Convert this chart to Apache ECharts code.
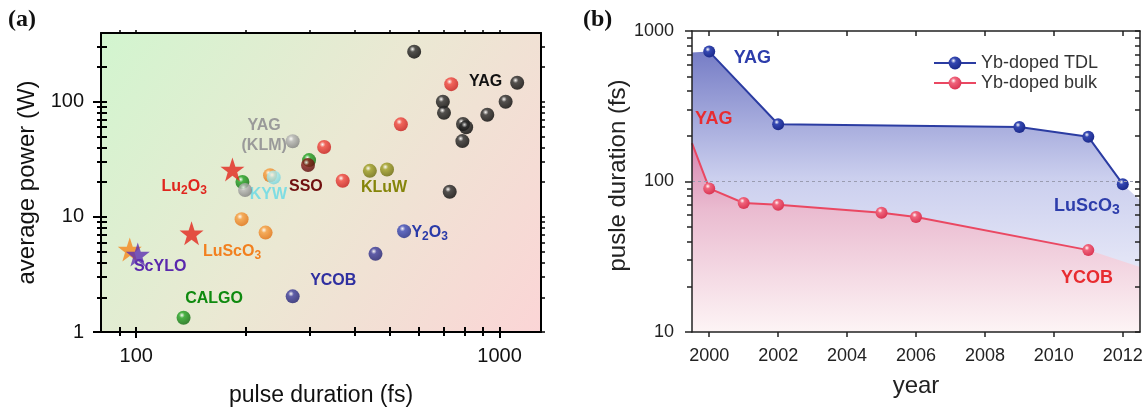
<!DOCTYPE html>
<html><head><meta charset="utf-8">
<script src="https://cdn.jsdelivr.net/npm/echarts@6/dist/echarts.min.js"></script>
<style>html,body{margin:0;padding:0;background:#fff}#c{width:1145px;height:408px}</style>
</head><body><div id="c"></div>
<script>
// ================= DATA: panel (a)  [pulse duration fs, average power W] =================
const yagThinDisk = [[582,272],[1118,146],[698,100],[703,80],[1039,100],[925,77],[793,64],[809,60],[790,45.5],[729,16.5]];
const yagBulkRed  = [[736,142],[535,63.6],[329,40.4],[370,20.6]];
const lu2o3Stars  = [[184,25.8],[142,7.2]];
const orangeStar  = [[96,5.2]];
const scyloStar   = [[101,4.7]];
const luscO3Pts   = [[195,9.55],[227,7.3],[233.5,23]];
const kywPts      = [[239,22]];
const yagKlmPts   = [[269.5,45.3],[199.3,17.1]];
const calgoPts    = [[196,20.1],[299,31.1],[135,1.33]];
const ssoPts      = [[297,28.2]];
const kluwPts     = [[439.5,25.1],[490,25.8]];
const ycobPts     = [[269.5,2.04],[455.5,4.77]];
const y2o3Pts     = [[546,7.51]];
const labelTextA  = ['YAG','YAG','(KLM)','Lu2O3','KYW','SSO','KLuW','Y2O3','LuScO3','ScYLO','YCOB','CALGO'];
const labelPosA   = [[915,149],[225,61.5],[225,41.2],[135.5,18.5],[231,15.7],[293,18.2],[481,17.9],[642,7.4],[183.5,5.06],[116.4,3.67],[348.5,2.82],[163.8,1.95]];
const xRangeA = [80, 1300];
const yRangeA = [1, 395];
const xMajorA = [100, 1000];
const xMinorA = [90, 200, 300, 400, 500, 600, 700, 800, 900];
const yMajorA = [1, 10, 100];
const yMinorA = [2,3,4,5,6,7,8,9,20,30,40,50,60,70,80,90,200,300];

// ================= DATA: panel (b)  [year, pulse duration fs] =================
const tdlSeries  = [[2000,730],[2002,240],[2009,230],[2011,198],[2012,96]];
const bulkSeries = [[2000,90],[2001,72],[2002,70],[2005,62],[2006,58],[2011,35]];
const bulkLeadIn = [1999.5, 180];
const tdlShadeEnds  = [[1999.5,720],[2012.5,75]];
const bulkShadeEnd  = [2012.5, 27];
const refLevel = 100;
const labelTextB = ['YAG','YAG','LuScO3','YCOB'];
const labelPosB  = [[2001.25,665],[2000.13,261],[2010.96,69.8],[2010.96,23.0]];
const yearTicks  = [2000,2002,2004,2006,2008,2010,2012];
const xRangeB = [1999.5, 2012.5];
const yRangeB = [10, 1000];
const yMajorB = [10, 100, 1000];
const yMinorB = [20,30,40,50,60,70,80,90,200,300,400,500,600,700,800,900];
const legendNames = ['Yb-doped TDL','Yb-doped bulk'];

// ================= STYLE =================
const FONT = '"Liberation Sans", Arial, Helvetica, sans-serif';
const labelColorsA = ['#111111','#9a9a9a','#9a9a9a','#e0261e','#7fdde3','#701010','#85850a','#2a3aa8','#f2801f','#5a28ad','#2f2fa0','#0f8a0f'];
const labelColorsB = ['#2d3dab','#e82c30','#2d3dab','#e82c30'];

function sphere(base, dark) {
  return {type:'radial', x:0.38, y:0.32, r:0.72, colorStops:[
    {offset:0, color:'#ffffff'}, {offset:0.28, color:base}, {offset:1, color:dark}]};
}
const STAR = 'path://M50,0 L61.8,35.3 L97.6,35.3 L68.8,57.1 L79.4,91.9 L50,70.5 L20.6,91.9 L31.2,57.1 L2.4,35.3 L38.2,35.3 Z';

function chem(t) {
  if (!/\d/.test(t)) return t;
  return t.replace(/([A-Za-z]+)/g, '{m|$1}').replace(/(\d)/g, '{s|$1}');
}
function labelItems(texts, pos, colors, size) {
  return texts.map((t, i) => {
    const sub = /\d/.test(t);
    return {
      value: pos[i],
      label: {
        show: true, position: 'inside', formatter: chem(t), opacity: 1,
        color: colors[i], fontSize: size, fontWeight: 'bold', fontFamily: FONT,
        textBorderWidth: 0, textBorderColor: 'transparent', textShadowBlur: 0,
        offset: sub ? [0, 2] : [0, 0],
        rich: {
          m: {fontSize: size, fontWeight: 'bold', fontFamily: FONT, color: colors[i], lineHeight: size + 2, verticalAlign: 'top', textBorderWidth: 0},
          s: {fontSize: size - 4, fontWeight: 'bold', fontFamily: FONT, color: colors[i], lineHeight: size - 4, verticalAlign: 'bottom', textBorderWidth: 0, padding: [Math.round(size * 0.75), 0, 0, 0]}
        }
      }
    };
  });
}

// ================= AXES =================
const xAxes = [], yAxes = [];
function addAxis(list, o) {
  list.push(Object.assign({
    z: 10, splitLine: {show: false}, axisLine: {show: false},
    axisTick: {show: false}, axisLabel: {show: false}, axisPointer: {show: false}
  }, o));
  return list.length - 1;
}
function tk(values, len, inside, color, width) {
  return {show: true, customValues: values, length: len, inside: inside, lineStyle: {color: color, width: width}};
}
const lineA = {show: true, lineStyle: {color: '#000', width: 2}};
const lineB = {show: true, lineStyle: {color: '#222', width: 1.5}};
const numFmt = v => String(Math.round(v));

// panel (a)
const xa = addAxis(xAxes, {type:'log', logBase:10, gridIndex:0, position:'bottom', min:xRangeA[0], max:xRangeA[1],
  axisLine: lineA, axisTick: tk(xMajorA, 6, false, '#000', 2),
  axisLabel: {show:true, customValues: xMajorA, formatter: numFmt, fontSize: 20, color:'#111', margin: 14, fontFamily: FONT},
  name: 'pulse duration (fs)', nameLocation:'middle', nameGap: 52, nameTextStyle: {fontSize: 23, color:'#111', fontFamily: FONT}});
addAxis(xAxes, {type:'log', logBase:10, gridIndex:0, position:'bottom', min:xRangeA[0], max:xRangeA[1], axisTick: tk(xMinorA, 4, false, '#000', 2)});
addAxis(xAxes, {type:'log', logBase:10, gridIndex:0, position:'bottom', min:xRangeA[0], max:xRangeA[1], axisTick: tk(xMajorA.concat(xMinorA), 5, true, '#000', 2)});
addAxis(xAxes, {type:'log', logBase:10, gridIndex:0, position:'top', min:xRangeA[0], max:xRangeA[1], axisLine: lineA, axisTick: tk(xMajorA.concat(xMinorA), 3, false, '#000', 1.5)});

const ya = addAxis(yAxes, {type:'log', logBase:10, gridIndex:0, position:'left', min:yRangeA[0], max:yRangeA[1],
  axisLine: lineA, axisTick: tk(yMajorA, 8, false, '#000', 2),
  axisLabel: {show:true, customValues: yMajorA, formatter: numFmt, fontSize: 20, color:'#111', margin: 17, fontFamily: FONT},
  name: 'average power (W)', nameLocation:'middle', nameGap: 62, nameTextStyle: {fontSize: 24, color:'#111', fontFamily: FONT}});
addAxis(yAxes, {type:'log', logBase:10, gridIndex:0, position:'left', min:yRangeA[0], max:yRangeA[1], axisTick: tk(yMinorA, 4, false, '#000', 2)});
addAxis(yAxes, {type:'log', logBase:10, gridIndex:0, position:'left', min:yRangeA[0], max:yRangeA[1], axisTick: tk(yMajorA.concat(yMinorA), 6, true, '#000', 2)});
addAxis(yAxes, {type:'log', logBase:10, gridIndex:0, position:'right', min:yRangeA[0], max:yRangeA[1], axisLine: lineA, axisTick: tk(yMajorA.concat(yMinorA), 4, false, '#000', 1.5)});

// panel (b)
const xb = addAxis(xAxes, {type:'value', gridIndex:1, position:'bottom', min:xRangeB[0], max:xRangeB[1],
  axisLine: lineB, axisTick: tk(yearTicks, 5, false, '#222', 1.5),
  axisLabel: {show:true, customValues: yearTicks, formatter: numFmt, fontSize: 18, color:'#222', margin: 15, fontFamily: FONT},
  name: 'year', nameLocation:'middle', nameGap: 42, nameTextStyle: {fontSize: 24, color:'#222', fontFamily: FONT}});
addAxis(xAxes, {type:'value', gridIndex:1, position:'top', min:xRangeB[0], max:xRangeB[1], axisLine: lineB, axisTick: tk(yearTicks, 5, true, '#222', 1.5)});

const yb = addAxis(yAxes, {type:'log', logBase:10, gridIndex:1, position:'left', min:yRangeB[0], max:yRangeB[1],
  axisLine: lineB, axisTick: tk(yMajorB, 7, false, '#222', 1.5),
  axisLabel: {show:true, customValues: yMajorB, formatter: numFmt, fontSize: 18, color:'#222', margin: 18, fontFamily: FONT},
  name: 'pusle duration (fs)', nameLocation:'middle', nameGap: 37, nameTextStyle: {fontSize: 24, color:'#222', fontFamily: FONT, padding: [0, 0, 0, 12]}});
addAxis(yAxes, {type:'log', logBase:10, gridIndex:1, position:'left', min:yRangeB[0], max:yRangeB[1], axisTick: tk(yMinorB, 5, false, '#222', 1.5)});
addAxis(yAxes, {type:'log', logBase:10, gridIndex:1, position:'right', min:yRangeB[0], max:yRangeB[1], axisLine: lineB, axisTick: tk(yMajorB.concat(yMinorB), 5, true, '#222', 1.5)});

// ================= SERIES =================
const A = {xAxisIndex: xa, yAxisIndex: ya};
const B = {xAxisIndex: xb, yAxisIndex: yb};
function balls(name, data, base, dark, z) {
  return Object.assign({type:'scatter', name, data, symbol:'circle', symbolSize: 14, z: z || 3,
    itemStyle: {color: sphere(base, dark)}, silent: true}, A);
}
function stars(name, data, color, size) {
  return Object.assign({type:'scatter', name, data, symbol: STAR, symbolSize: size, z: 3,
    itemStyle: {color: color}, silent: true}, A);
}

const series = [
  Object.assign({type:'scatter', name:'labelsA', data: labelItems(labelTextA, labelPosA, labelColorsA, 16),
    symbolSize: 1, itemStyle: {color: 'rgba(0,0,0,0)'}, z: 1, silent: true}, A),
  balls('CALGO', calgoPts, '#22a322', '#0a660a'),
  balls('SSO', ssoPts, '#8c1c1c', '#560606'),
  balls('YAG (KLM)', yagKlmPts, '#b6b6b6', '#7c7c7c'),
  balls('LuScO3', luscO3Pts, '#f79c3c', '#e06c0c'),
  balls('KYW', kywPts, '#b4eef1', '#72d2da'),
  balls('YAG bulk', yagBulkRed, '#f2463e', '#c41616'),
  balls('KLuW', kluwPts, '#9e9e22', '#666606'),
  balls('YCOB', ycobPts, '#3c3c9c', '#1c1c6c'),
  balls('Y2O3', y2o3Pts, '#3c4cba', '#1c2886'),
  balls('YAG TD', yagThinDisk, '#2c2c2c', '#000000'),
  stars('Lu2O3', lu2o3Stars, '#e2271d', 24),
  stars('orange star', orangeStar, '#f5871d', 24),
  stars('ScYLO', scyloStar, '#5c30b2', 24),

  // panel (b) shading
  Object.assign({type:'line', name:'tdlShade', data: [tdlShadeEnds[0]].concat(tdlSeries, [tdlShadeEnds[1]]),
    symbol:'none', lineStyle:{width:0, opacity:0}, silent:true, z: 1,
    areaStyle:{origin:'start', opacity:1, color:{type:'linear', x:0, y:0, x2:0, y2:1, colorStops:[
      {offset:0, color:'#767dc6'}, {offset:0.45, color:'#cbcfee'}, {offset:1, color:'#f7f7fd'}]}}}, B),
  Object.assign({type:'line', name:'bulkShade', data: [bulkLeadIn].concat(bulkSeries, [bulkShadeEnd]),
    symbol:'none', lineStyle:{width:0, opacity:0}, silent:true, z: 1,
    areaStyle:{origin:'start', opacity:1, color:{type:'linear', x:0, y:0, x2:0, y2:1, colorStops:[
      {offset:0, color:'#d686b0'}, {offset:0.35, color:'#eabbd0'}, {offset:1, color:'#fdf4f5'}]}}}, B),

  // panel (b) lines
  Object.assign({type:'line', name: legendNames[0], data: tdlSeries, symbol:'circle', symbolSize: 12,
    showAllSymbol: true, z: 4, silent: true,
    lineStyle:{color:'#2b3ca2', width:2}, itemStyle:{color: sphere('#3548b2', '#1a2888')},
    markLine:{silent:true, symbol:'none', label:{show:false}, lineStyle:{type:[3,3], color:'#9a9cb0', width:1},
      data:[{yAxis: refLevel}]}}, B),
  Object.assign({type:'line', name: legendNames[1],
    data: [{value: bulkLeadIn, symbol:'none'}].concat(bulkSeries), symbol:'circle', symbolSize: 12,
    showAllSymbol: true, z: 4, silent: true,
    lineStyle:{color:'#ea4862', width:2}, itemStyle:{color: sphere('#f0647c', '#d83250')}}, B),

  Object.assign({type:'scatter', name:'labelsB', data: labelItems(labelTextB, labelPosB, labelColorsB, 18),
    symbolSize: 1, itemStyle: {color: 'rgba(0,0,0,0)'}, z: 5, silent: true}, B)
];

const option = {
  animation: false,
  textStyle: {fontFamily: FONT},
  grid: [
    {left: 101, top: 33, width: 440, height: 299, show: true, borderWidth: 0, containLabel: false, outerBoundsMode: 'none',
     backgroundColor: {type:'linear', x:0, y:0, x2:1, y2:1, colorStops:[
       {offset:0, color:'#d2f5cf'}, {offset:0.5, color:'#ebe8d3'}, {offset:1, color:'#fbd5d6'}]}},
    {left: 692, top: 31, width: 448, height: 301, show: false, containLabel: false, outerBoundsMode: 'none'}
  ],
  xAxis: xAxes,
  yAxis: yAxes,
  legend: {
    data: legendNames, orient: 'vertical', left: 928, top: 49, itemWidth: 42, itemHeight: 16, itemGap: 2,
    selectedMode: false, textStyle: {fontSize: 18, color: '#333', fontFamily: FONT}
  },
  graphic: [
    {type:'text', left: 8, top: 8, style:{text:'(a)', font:'bold 24px "Liberation Serif", "Times New Roman", serif', fill:'#111'}},
    {type:'text', left: 583, top: 8, style:{text:'(b)', font:'bold 24px "Liberation Serif", "Times New Roman", serif', fill:'#111'}}
  ],
  series: series
};
const chart = echarts.init(document.getElementById('c'), null, {renderer: 'canvas'});
chart.setOption(option);
</script></body></html>
